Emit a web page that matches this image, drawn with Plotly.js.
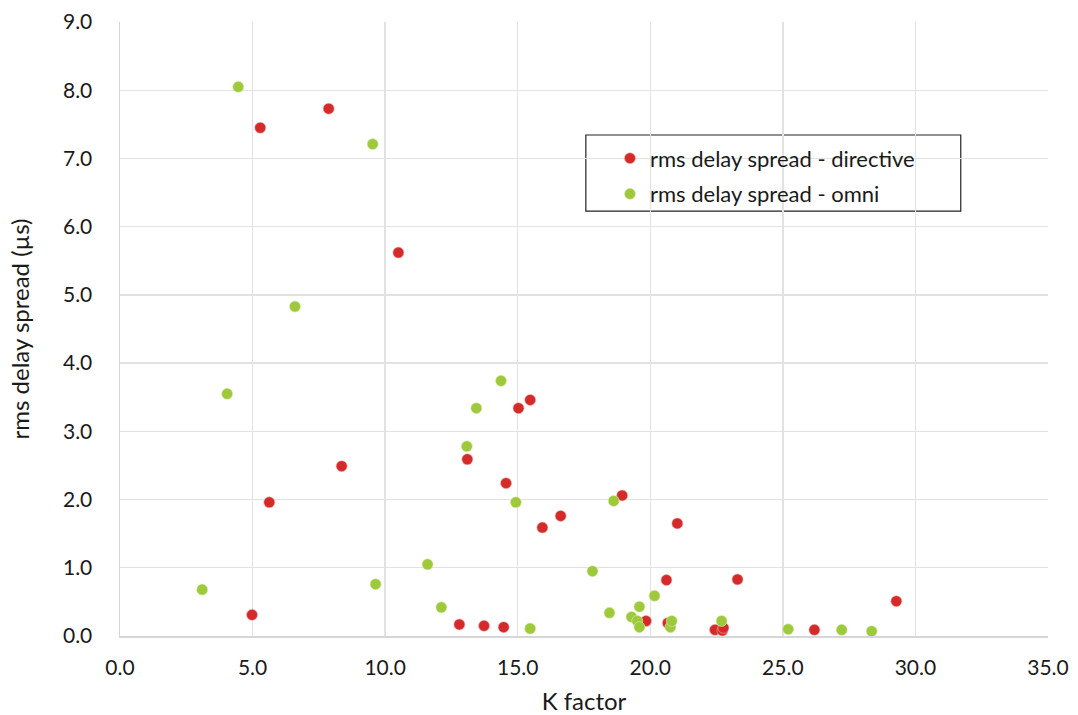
<!DOCTYPE html>
<html>
<head>
<meta charset="utf-8">
<script src="https://cdn.plot.ly/plotly-3.0.1.min.js"></script>
<style>html,body{margin:0;padding:0;background:#fff;}#chart{width:1078px;height:715px;}</style>
</head>
<body>
<div id="chart"></div>
<script>
var directiveK = [5.29, 7.87, 10.5, 8.36, 5.63, 4.98, 13.1, 12.8, 13.73, 14.47, 14.56, 15.03, 15.47, 15.93, 16.62, 18.94, 19.84, 20.61, 20.66, 21.02, 22.44, 22.72, 22.76, 23.29, 26.19, 29.28];
var directiveRms = [7.45, 7.73, 5.62, 2.49, 1.96, 0.31, 2.59, 0.17, 0.15, 0.13, 2.24, 3.34, 3.46, 1.59, 1.76, 2.06, 0.22, 0.82, 0.19, 1.65, 0.09, 0.08, 0.12, 0.83, 0.09, 0.51];
var omniK = [4.46, 9.53, 6.6, 4.04, 3.1, 9.64, 11.6, 12.12, 13.08, 13.44, 14.37, 14.93, 15.47, 17.82, 18.46, 18.62, 19.29, 19.51, 19.59, 19.59, 20.16, 20.76, 20.81, 22.69, 25.2, 27.22, 28.35];
var omniRms = [8.05, 7.21, 4.83, 3.55, 0.68, 0.76, 1.05, 0.42, 2.78, 3.34, 3.74, 1.96, 0.11, 0.95, 0.34, 1.98, 0.28, 0.22, 0.43, 0.13, 0.59, 0.13, 0.22, 0.22, 0.10, 0.09, 0.07];
var seriesNames = ['rms delay spread - directive', 'rms delay spread - omni'];
var xTicks = [0, 5, 10, 15, 20, 25, 30, 35];
var yTicks = [0, 1, 2, 3, 4, 5, 6, 7, 8, 9];

var FONT = 'Lato, "Open Sans", sans-serif';
var TXT = '#1a1a1a';
var traces = [
  {x: directiveK, y: directiveRms, name: seriesNames[0], type: 'scatter', mode: 'markers', legendgroup: 'a',
   marker: {color: '#D42A2A', size: 11, line: {color: '#f0b0b0', width: 0.6}}},
  {x: omniK, y: omniRms, name: seriesNames[1], type: 'scatter', mode: 'markers', legendgroup: 'b',
   marker: {color: '#9DC93B', size: 11, line: {color: '#d8ecb0', width: 0.6}}}
];
var layout = {
  width: 1078, height: 715,
  margin: {l: 120, r: 30, t: 22, b: 79},
  paper_bgcolor: '#fff', plot_bgcolor: '#fff',
  font: {family: FONT, size: 21, color: TXT},
  showlegend: true,
  legend: {x: 0.528, y: 0.812, xanchor: 'left', yanchor: 'top', bgcolor: 'rgba(0,0,0,0)', borderwidth: 0,
           font: {family: FONT, size: 22, color: TXT}, traceorder: 'grouped', tracegroupgap: 4},
  xaxis: {range: [0, 35], tickvals: xTicks, tickformat: '.1f', showgrid: true, gridcolor: '#e2e2e2', gridwidth: 1.3,
          zeroline: false, showline: true, linecolor: '#d6d6d6', linewidth: 1.5, mirror: false, ticks: '',
          ticklabelstandoff: 12, title: {text: 'K factor', font: {family: FONT, size: 24, color: TXT}, standoff: 15},
          tickfont: {family: FONT, size: 21, color: TXT}},
  yaxis: {range: [0, 9], tickvals: yTicks, tickformat: '.1f', showgrid: true, gridcolor: '#e2e2e2', gridwidth: 1.3,
          zeroline: false, showline: true, linecolor: '#d6d6d6', linewidth: 1.5, ticks: '',
          ticklabelstandoff: 22, title: {text: 'rms delay spread (µs)', font: {family: FONT, size: 24, color: TXT}, standoff: 26},
          tickfont: {family: FONT, size: 21, color: TXT}},
  shapes: [
    {type: 'rect', xref: 'paper', yref: 'paper', x0: 0.502, x1: 0.906, y0: 0.692, y1: 0.816,
     line: {color: '#222', width: 1.2}, fillcolor: 'rgba(255,255,255,1)', layer: 'below'}
  ]
};
Plotly.newPlot('chart', traces, layout, {displayModeBar: false, staticPlot: true});
</script>
</body>
</html>
